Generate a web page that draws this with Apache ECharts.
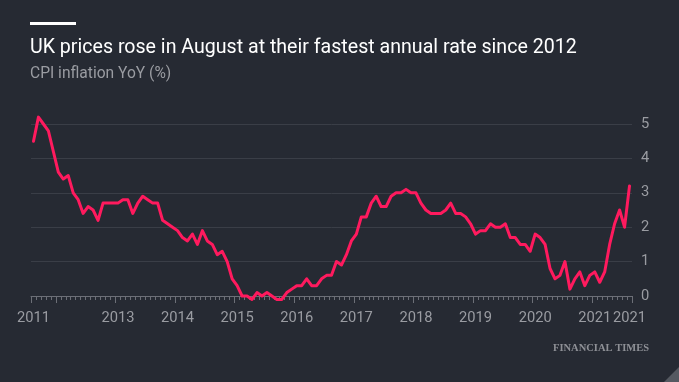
<!DOCTYPE html>
<html>
<head>
<meta charset="utf-8">
<script src="https://cdn.jsdelivr.net/npm/echarts@6/dist/echarts.min.js"></script>
<style>
  html, body { margin: 0; padding: 0; background: #262a33; }
  #chart { width: 679px; height: 382px; }
</style>
</head>
<body>
<div id="chart"></div>
<script>
// ---- Data (Aug 2011 – Aug 2021, monthly) ----
const titleText = 'UK prices rose in August at their fastest annual rate since 2012';
const subtitleText = 'CPI inflation YoY (%)';
const sourceText = 'FINANCIAL TIMES';

const months = [];
(function () {
  let y = 2011, m = 8;
  while (y < 2021 || (y === 2021 && m <= 8)) {
    months.push(y + '-' + String(m).padStart(2, '0'));
    m++; if (m > 12) { m = 1; y++; }
  }
})();

const cpi2011 = [4.5, 5.2, 5.0, 4.8, 4.2];
const cpi2012 = [3.6, 3.4, 3.5, 3.0, 2.8, 2.4, 2.6, 2.5, 2.2, 2.7, 2.7, 2.7];
const cpi2013 = [2.7, 2.8, 2.8, 2.4, 2.7, 2.9, 2.8, 2.7, 2.7, 2.2, 2.1, 2.0];
const cpi2014 = [1.9, 1.7, 1.6, 1.8, 1.5, 1.9, 1.6, 1.5, 1.2, 1.3, 1.0, 0.5];
const cpi2015 = [0.3, 0.0, 0.0, -0.1, 0.1, 0.0, 0.1, 0.0, -0.1, -0.1, 0.1, 0.2];
const cpi2016 = [0.3, 0.3, 0.5, 0.3, 0.3, 0.5, 0.6, 0.6, 1.0, 0.9, 1.2, 1.6];
const cpi2017 = [1.8, 2.3, 2.3, 2.7, 2.9, 2.6, 2.6, 2.9, 3.0, 3.0, 3.1, 3.0];
const cpi2018 = [3.0, 2.7, 2.5, 2.4, 2.4, 2.4, 2.5, 2.7, 2.4, 2.4, 2.3, 2.1];
const cpi2019 = [1.8, 1.9, 1.9, 2.1, 2.0, 2.0, 2.1, 1.7, 1.7, 1.5, 1.5, 1.3];
const cpi2020 = [1.8, 1.7, 1.5, 0.8, 0.5, 0.6, 1.0, 0.2, 0.5, 0.7, 0.3, 0.6];
const cpi2021 = [0.7, 0.4, 0.7, 1.5, 2.1, 2.5, 2.0, 3.2];
const cpiValues = [].concat(cpi2011, cpi2012, cpi2013, cpi2014, cpi2015, cpi2016,
                            cpi2017, cpi2018, cpi2019, cpi2020, cpi2021);

// x labels shown: first month, Januaries 2013–2021, last month
const labelMonths = ['2011-08', '2013-01', '2014-01', '2015-01', '2016-01', '2017-01',
                     '2018-01', '2019-01', '2020-01', '2021-01', '2021-08'];
const yTicks = [0, 1, 2, 3, 4, 5];

// ---- Styles ----
const BG = '#262a33';
const TEXT_GREY = '#9a9ca2';
const GRID = '#3a3e47';
const AXIS = '#6c6f77';
const LINE = '#ff1a5e';

function fitSize(text, family, weight, targetWidth, base) {
  const c = document.createElement('canvas').getContext('2d');
  c.font = weight + ' ' + base + 'px ' + family;
  const w = c.measureText(text).width;
  return Math.round(base * targetWidth / w * 10) / 10;
}
const SANS = 'Roboto';
const titleSize = fitSize(titleText, SANS, 'normal', 547, 20);
const subSize = fitSize(subtitleText, SANS, 'normal', 141, 15);
const labelSize = fitSize('2011', SANS, 'normal', 33, 14);

const chart = echarts.init(document.getElementById('chart'), null, { renderer: 'canvas' });
const labelSet = new Set(labelMonths);
const isJan = (i) => months[i] && months[i].endsWith('-01');

chart.setOption({
  backgroundColor: BG,
  animation: false,
  grid: { left: 31, right: 47, top: 124, bottom: 86, containLabel: false },
  graphic: [
    { type: 'rect', shape: { x: 30, y: 22, width: 46, height: 3 }, style: { fill: '#ffffff' } },
    { type: 'text', left: 30, top: 50 - titleSize * 0.6,
      style: { text: titleText, fill: '#ffffff', font: 'normal ' + titleSize + 'px ' + SANS } },
    { type: 'text', left: 30, top: 75 - subSize * 0.6,
      style: { text: subtitleText, fill: TEXT_GREY, font: 'normal ' + subSize + 'px ' + SANS } },
    { type: 'text', right: 30, top: 343,
      style: { text: sourceText, fill: '#8e9096', font: 'bold 10.5px "Liberation Serif", serif' } },
    { type: 'polygon', shape: { points: [[679, 367], [679, 382], [664, 382]] }, style: { fill: '#555961' } }
  ],
  xAxis: [
    {
      type: 'category',
      data: months,
      boundaryGap: true,
      axisLine: { show: true, onZero: true, lineStyle: { color: AXIS, width: 1 } },
      axisTick: { show: true, interval: 0, length: 4, lineStyle: { color: AXIS } },
      axisLabel: {
        show: true,
        interval: (i, v) => labelSet.has(v),
        formatter: (v) => v.slice(0, 4),
        color: TEXT_GREY,
        fontFamily: SANS,
        fontSize: labelSize,
        margin: 15,
        hideOverlap: false
      },
      splitLine: { show: false }
    },
    {
      type: 'category',
      data: months,
      boundaryGap: true,
      position: 'bottom',
      axisLine: { show: false, onZero: true },
      axisTick: { show: true, interval: (i) => isJan(i) || i === 0, length: 7, lineStyle: { color: AXIS } },
      axisLabel: { show: false },
      splitLine: { show: false }
    }
  ],
  yAxis: {
    type: 'value',
    position: 'right',
    min: yTicks[0],
    max: yTicks[yTicks.length - 1],
    interval: 1,
    axisLine: { show: false },
    axisTick: { show: false },
    axisLabel: { color: TEXT_GREY, fontFamily: SANS, fontSize: labelSize, margin: 9 },
    splitLine: { show: true, lineStyle: { color: GRID, width: 1 } }
  },
  series: [{
    type: 'line',
    data: cpiValues,
    xAxisIndex: 0,
    showSymbol: false,
    clip: false,
    lineStyle: { color: LINE, width: 3, join: 'round', cap: 'round' },
    z: 5
  }]
});
</script>
</body>
</html>
